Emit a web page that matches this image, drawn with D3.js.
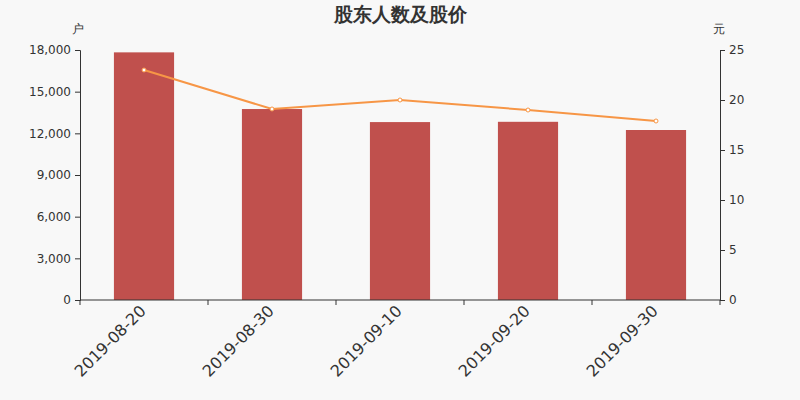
<!DOCTYPE html>
<html>
<head>
<meta charset="utf-8">
<script src="https://cdn.jsdelivr.net/npm/d3@7"></script>
<style>
  body { margin: 0; background: #f8f8f8; }
  svg { display: block; font-family: "DejaVu Sans", sans-serif; }
</style>
</head>
<body>
<div id="chart"></div>
<script>
const dates = ['2019-08-20', '2019-08-30', '2019-09-10', '2019-09-20', '2019-09-30'];
const holders = [17830, 13750, 12810, 12830, 12240];
const prices = [23.0, 19.1, 20.0, 19.0, 17.9];
const holderTicks = [0, 3000, 6000, 9000, 12000, 15000, 18000];
const priceTicks = [0, 5, 10, 15, 20, 25];

const width = 800, height = 400;
const margin = { top: 50, right: 80, bottom: 100, left: 80 };
const innerW = width - margin.left - margin.right;
const innerH = height - margin.top - margin.bottom;

const svg = d3.select('#chart').append('svg')
  .attr('width', width).attr('height', height);

svg.append('rect').attr('width', width).attr('height', height).attr('fill', '#f8f8f8');

// title
svg.append('text')
  .attr('x', width / 2).attr('y', 21)
  .attr('text-anchor', 'middle')
  .attr('font-size', 19).attr('font-weight', 'bold')
  .attr('fill', '#333')
  .text('股东人数及股价');

const g = svg.append('g').attr('transform', `translate(${margin.left},${margin.top})`);

const x = d3.scaleBand().domain(dates).range([0, innerW]).paddingInner(0.53).paddingOuter(0.265);
const xPoint = d => x(d) + x.bandwidth() / 2;
const yL = d3.scaleLinear().domain([0, 18000]).range([innerH, 0]);
const yR = d3.scaleLinear().domain([0, 25]).range([innerH, 0]);

// bars
g.selectAll('rect.bar')
  .data(dates)
  .join('rect')
  .attr('class', 'bar')
  .attr('x', d => x(d))
  .attr('width', x.bandwidth())
  .attr('y', (d, i) => yL(holders[i]))
  .attr('height', (d, i) => innerH - yL(holders[i]))
  .attr('fill', '#c0504d');

// line
const line = d3.line()
  .x((d, i) => xPoint(dates[i]))
  .y(d => yR(d));

g.append('path')
  .datum(prices)
  .attr('d', line)
  .attr('fill', 'none')
  .attr('stroke', '#f79646')
  .attr('stroke-width', 2);

g.selectAll('circle.pt')
  .data(prices)
  .join('circle')
  .attr('class', 'pt')
  .attr('cx', (d, i) => xPoint(dates[i]))
  .attr('cy', d => yR(d))
  .attr('r', 2)
  .attr('fill', '#fff')
  .attr('stroke', '#f79646')
  .attr('stroke-width', 1);

// left axis
const leftAxis = g.append('g')
  .call(d3.axisLeft(yL).tickValues(holderTicks).tickFormat(d3.format(',')).tickSize(5).tickPadding(4));

// right axis
const rightAxis = g.append('g')
  .attr('transform', `translate(${innerW},0)`)
  .call(d3.axisRight(yR).tickValues(priceTicks).tickSize(5).tickPadding(4));

// bottom axis with ticks at band edges
const bottom = g.append('g').attr('transform', `translate(0,${innerH})`);
bottom.append('line')
  .attr('x1', 0).attr('x2', innerW)
  .attr('stroke', '#333');
const edges = dates.map(d => x(d) - x.step() * x.paddingInner() / 2).concat([innerW]);
bottom.selectAll('line.tk')
  .data(edges)
  .join('line')
  .attr('class', 'tk')
  .attr('x1', d => d).attr('x2', d => d)
  .attr('y1', 0).attr('y2', 5)
  .attr('stroke', '#333');
bottom.selectAll('text')
  .data(dates)
  .join('text')
  .attr('transform', d => `translate(${xPoint(d) + 3},${12}) rotate(-45)`)
  .attr('text-anchor', 'end')
  .attr('font-size', 16)
  .attr('fill', '#333')
  .text(d => d);

[leftAxis, rightAxis].forEach(a => {
  a.select('.domain').attr('stroke', '#333');
  a.selectAll('.tick line').attr('stroke', '#333');
  a.selectAll('.tick text').attr('font-size', 12).attr('fill', '#333').attr('font-family', '"DejaVu Sans", sans-serif');
});

// unit labels
svg.append('text').attr('x', 78).attr('y', 33).attr('text-anchor', 'middle')
  .attr('font-size', 12).attr('fill', '#333').text('户');
svg.append('text').attr('x', 719).attr('y', 33).attr('text-anchor', 'middle')
  .attr('font-size', 12).attr('fill', '#333').text('元');
</script>
</body>
</html>
